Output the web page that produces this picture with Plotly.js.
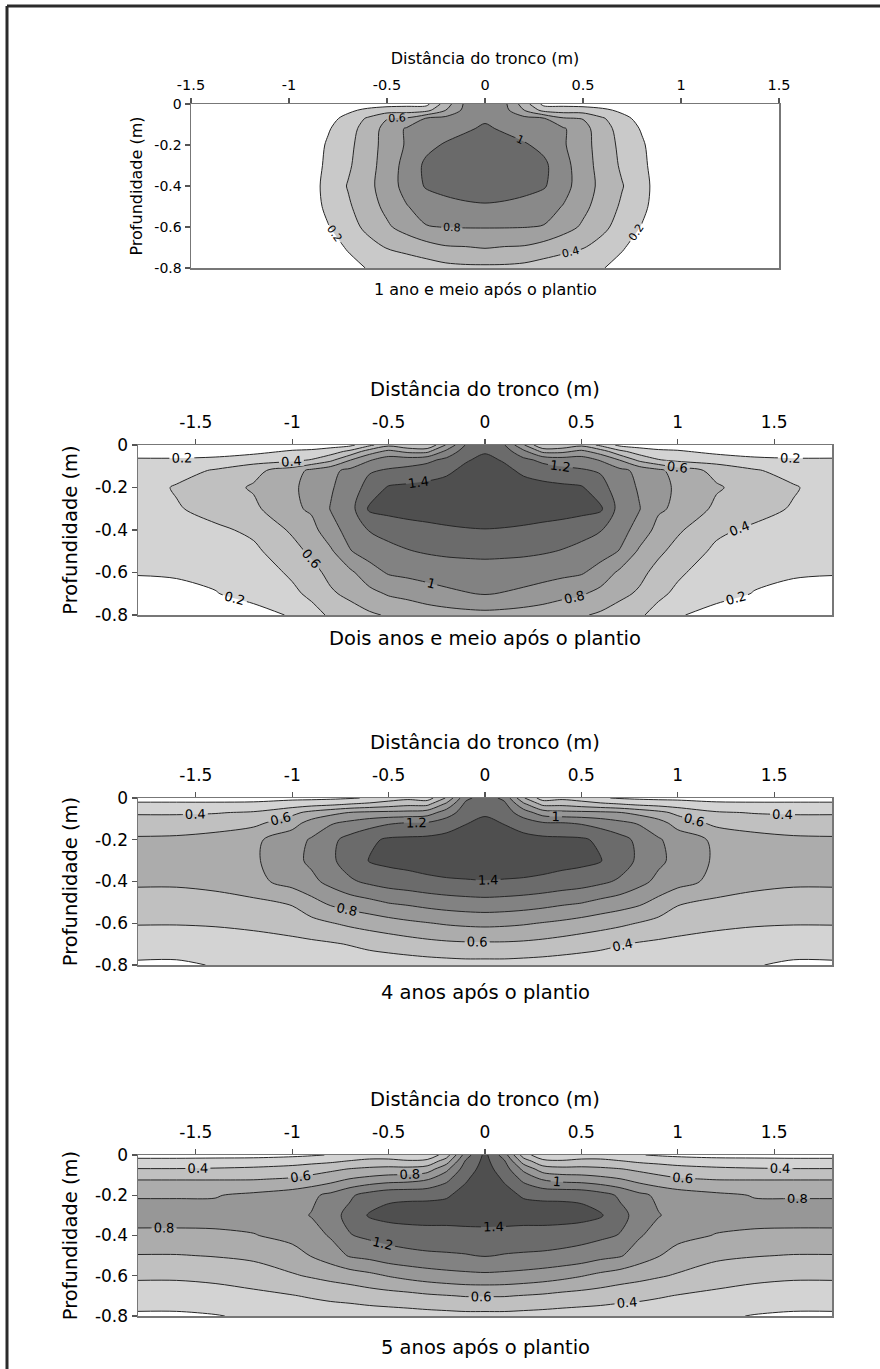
<!DOCTYPE html>
<html><head><meta charset="utf-8">
<script src="https://cdn.plot.ly/plotly-3.0.1.min.js"></script>
<style>html,body{margin:0;padding:0;background:#fff;overflow:hidden}</style>
</head><body><div id="chart" style="width:880px;height:1369px"></div>
<script>
// ---- data ----
const distX = [-1.8,-1.6,-1.4,-1.2,-1.0,-0.9,-0.8,-0.7,-0.6,-0.5,-0.4,-0.3,-0.2,-0.1,0,0.1,0.2,0.3,0.4,0.5,0.6,0.7,0.8,0.9,1.0,1.2,1.4,1.6,1.8];
const depthY = [0,-0.03,-0.07,-0.12,-0.2,-0.3,-0.4,-0.5,-0.6,-0.7,-0.8];

const z1 = [
[0,0,0,0,0,0,0,0.02,0.08,0.12,0.14,0.14,0.5,0.84,0.95,0.84,0.5,0.14,0.14,0.12,0.08,0.02,0,0,0,0,0,0,0],
[0,0,0,0,0,0,0.05,0.15,0.25,0.3,0.3,0.33,0.6,0.86,0.95,0.86,0.6,0.33,0.3,0.3,0.25,0.15,0.05,0,0,0,0,0,0],
[0,0,0,0,0,0.02,0.12,0.27,0.42,0.59,0.62,0.81,0.86,0.92,0.97,0.92,0.86,0.81,0.62,0.59,0.42,0.27,0.12,0.02,0,0,0,0,0],
[0,0,0,0,0,0.04,0.18,0.33,0.47,0.68,0.82,0.87,0.92,0.97,1.03,0.97,0.92,0.87,0.82,0.68,0.47,0.33,0.18,0.04,0,0,0,0,0],
[0,0,0,0,0,0.06,0.23,0.35,0.5,0.68,0.82,0.95,1.02,1.08,1.12,1.08,1.02,0.95,0.82,0.68,0.5,0.35,0.23,0.06,0,0,0,0,0],
[0,0,0,0,0,0.08,0.25,0.37,0.52,0.69,0.87,1.04,1.1,1.14,1.15,1.14,1.1,1.04,0.87,0.69,0.52,0.37,0.25,0.08,0,0,0,0,0],
[0,0,0,0,0,0.1,0.27,0.41,0.54,0.7,0.87,1.02,1.06,1.08,1.1,1.08,1.06,1.02,0.87,0.7,0.54,0.41,0.27,0.1,0,0,0,0,0],
[0,0,0,0,0,0.09,0.25,0.37,0.51,0.65,0.79,0.88,0.94,0.97,0.98,0.97,0.94,0.88,0.79,0.65,0.51,0.37,0.25,0.09,0,0,0,0,0],
[0,0,0,0,0,0.07,0.19,0.31,0.45,0.57,0.68,0.79,0.805,0.81,0.81,0.81,0.805,0.79,0.68,0.57,0.45,0.31,0.19,0.07,0,0,0,0,0],
[0,0,0,0,0,0.02,0.1,0.22,0.32,0.41,0.46,0.52,0.58,0.59,0.61,0.59,0.58,0.52,0.46,0.41,0.32,0.22,0.1,0.02,0,0,0,0,0],
[0,0,0,0,0,0,0.04,0.12,0.21,0.23,0.27,0.3,0.34,0.36,0.36,0.36,0.34,0.3,0.27,0.23,0.21,0.12,0.04,0,0,0,0,0,0]
];

const z2 = [
[0.06,0.06,0.06,0.08,0.1,0.1,0.12,0.15,0.35,0.55,0.45,0.41,0.82,1.21,1.3,1.21,0.82,0.41,0.45,0.55,0.35,0.15,0.12,0.1,0.1,0.08,0.06,0.06,0.06],
[0.12,0.12,0.12,0.15,0.22,0.24,0.3,0.45,0.7,0.85,0.75,0.75,1.05,1.3,1.38,1.3,1.05,0.75,0.75,0.85,0.7,0.45,0.3,0.24,0.22,0.15,0.12,0.12,0.12],
[0.22,0.22,0.24,0.3,0.35,0.41,0.55,0.79,0.98,1.1,1.1,1.15,1.25,1.38,1.45,1.38,1.25,1.15,1.1,1.1,0.98,0.79,0.55,0.41,0.35,0.3,0.24,0.22,0.22],
[0.28,0.32,0.42,0.55,0.7,0.85,0.95,1.05,1.18,1.22,1.26,1.3,1.36,1.45,1.52,1.45,1.36,1.3,1.26,1.22,1.18,1.05,0.95,0.85,0.7,0.55,0.42,0.32,0.28],
[0.3,0.42,0.52,0.62,0.77,0.86,0.98,1.1,1.27,1.42,1.44,1.46,1.48,1.52,1.55,1.52,1.48,1.46,1.44,1.42,1.27,1.1,0.98,0.86,0.77,0.62,0.52,0.42,0.3],
[0.3,0.38,0.48,0.56,0.76,0.83,1.01,1.12,1.43,1.47,1.5,1.52,1.54,1.56,1.58,1.56,1.54,1.52,1.5,1.47,1.43,1.12,1.01,0.83,0.76,0.56,0.48,0.38,0.3],
[0.3,0.32,0.36,0.44,0.63,0.73,0.93,1.07,1.21,1.26,1.3,1.33,1.36,1.38,1.39,1.38,1.36,1.33,1.3,1.26,1.21,1.07,0.93,0.73,0.63,0.44,0.36,0.32,0.3],
[0.24,0.26,0.3,0.36,0.53,0.64,0.77,0.99,1.08,1.15,1.19,1.22,1.24,1.25,1.26,1.25,1.24,1.22,1.19,1.15,1.08,0.99,0.77,0.64,0.53,0.36,0.3,0.26,0.24],
[0.21,0.22,0.25,0.3,0.43,0.53,0.66,0.76,0.92,1.02,1.05,1.07,1.09,1.1,1.1,1.1,1.09,1.07,1.05,1.02,0.92,0.76,0.66,0.53,0.43,0.3,0.25,0.22,0.21],
[0.14,0.15,0.19,0.27,0.36,0.44,0.57,0.65,0.74,0.82,0.86,0.92,0.96,0.99,1.01,0.99,0.96,0.92,0.86,0.82,0.74,0.65,0.57,0.44,0.36,0.27,0.19,0.15,0.14],
[0.06,0.06,0.08,0.12,0.22,0.33,0.43,0.5,0.57,0.62,0.65,0.68,0.71,0.73,0.74,0.73,0.71,0.68,0.65,0.62,0.57,0.5,0.43,0.33,0.22,0.12,0.08,0.06,0.06]
];

const z3 = [
[0.12,0.12,0.12,0.12,0.15,0.15,0.16,0.18,0.22,0.3,0.35,0.3,0.62,1.15,1.3,1.15,0.62,0.3,0.35,0.3,0.22,0.18,0.16,0.15,0.15,0.12,0.12,0.12,0.12],
[0.24,0.24,0.24,0.25,0.3,0.33,0.36,0.41,0.45,0.5,0.55,0.55,0.85,1.25,1.36,1.25,0.85,0.55,0.55,0.5,0.45,0.41,0.36,0.33,0.3,0.25,0.24,0.24,0.24],
[0.38,0.38,0.39,0.42,0.55,0.66,0.74,0.81,0.84,0.85,0.86,0.9,1.1,1.3,1.37,1.3,1.1,0.9,0.86,0.85,0.84,0.81,0.74,0.66,0.55,0.42,0.39,0.38,0.38],
[0.48,0.48,0.5,0.55,0.72,0.88,0.98,1.05,1.12,1.18,1.21,1.22,1.3,1.39,1.45,1.39,1.3,1.22,1.21,1.18,1.12,1.05,0.98,0.88,0.72,0.55,0.5,0.48,0.48],
[0.63,0.64,0.68,0.76,0.92,1.02,1.15,1.27,1.36,1.43,1.44,1.45,1.47,1.5,1.52,1.5,1.47,1.45,1.44,1.43,1.36,1.27,1.15,1.02,0.92,0.76,0.68,0.64,0.63],
[0.7,0.7,0.72,0.77,0.94,1.04,1.16,1.3,1.41,1.45,1.47,1.5,1.53,1.55,1.56,1.55,1.53,1.5,1.47,1.45,1.41,1.3,1.16,1.04,0.94,0.77,0.72,0.7,0.7],
[0.63,0.63,0.66,0.74,0.88,0.95,1.06,1.17,1.24,1.29,1.32,1.35,1.37,1.38,1.39,1.38,1.37,1.35,1.32,1.29,1.24,1.17,1.06,0.95,0.88,0.74,0.66,0.63,0.63],
[0.52,0.52,0.53,0.56,0.62,0.74,0.84,0.9,0.95,1.01,1.04,1.08,1.11,1.13,1.14,1.13,1.11,1.08,1.04,1.01,0.95,0.9,0.84,0.74,0.62,0.56,0.53,0.52,0.52],
[0.41,0.41,0.42,0.45,0.5,0.54,0.59,0.64,0.68,0.72,0.76,0.79,0.82,0.84,0.85,0.84,0.82,0.79,0.76,0.72,0.68,0.64,0.59,0.54,0.5,0.45,0.42,0.41,0.41],
[0.3,0.29,0.3,0.31,0.34,0.36,0.38,0.41,0.45,0.48,0.51,0.54,0.56,0.57,0.57,0.57,0.56,0.54,0.51,0.48,0.45,0.41,0.38,0.36,0.34,0.31,0.3,0.29,0.3],
[0.17,0.17,0.21,0.23,0.24,0.25,0.26,0.27,0.28,0.29,0.3,0.31,0.32,0.33,0.33,0.33,0.32,0.31,0.3,0.29,0.28,0.27,0.26,0.25,0.24,0.23,0.21,0.17,0.17]
];

const z4 = [
[0.14,0.14,0.14,0.14,0.16,0.18,0.21,0.25,0.3,0.3,0.25,0.25,0.5,1.1,1.45,1.1,0.5,0.25,0.25,0.3,0.3,0.25,0.21,0.18,0.16,0.14,0.14,0.14,0.14],
[0.25,0.25,0.26,0.27,0.3,0.33,0.36,0.41,0.45,0.45,0.42,0.45,0.7,1.22,1.46,1.22,0.7,0.45,0.42,0.45,0.45,0.41,0.36,0.33,0.3,0.27,0.26,0.25,0.25],
[0.41,0.41,0.42,0.44,0.48,0.52,0.56,0.61,0.64,0.66,0.66,0.7,0.95,1.3,1.48,1.3,0.95,0.7,0.66,0.66,0.64,0.61,0.56,0.52,0.48,0.44,0.42,0.41,0.41],
[0.59,0.59,0.59,0.59,0.62,0.66,0.72,0.81,0.86,0.9,0.92,0.98,1.15,1.38,1.5,1.38,1.15,0.98,0.92,0.9,0.86,0.81,0.72,0.66,0.62,0.59,0.59,0.59,0.59],
[0.79,0.79,0.79,0.84,0.9,0.96,1.05,1.17,1.28,1.35,1.36,1.36,1.38,1.46,1.55,1.46,1.38,1.36,1.36,1.35,1.28,1.17,1.05,0.96,0.9,0.84,0.79,0.79,0.79],
[0.85,0.85,0.86,0.88,0.94,1.01,1.13,1.26,1.42,1.47,1.49,1.5,1.5,1.51,1.52,1.51,1.5,1.5,1.49,1.47,1.42,1.26,1.13,1.01,0.94,0.88,0.86,0.85,0.85],
[0.77,0.77,0.77,0.79,0.86,0.92,1.02,1.19,1.24,1.27,1.29,1.3,1.3,1.31,1.31,1.31,1.3,1.3,1.29,1.27,1.24,1.19,1.02,0.92,0.86,0.79,0.77,0.77,0.77],
[0.59,0.59,0.61,0.64,0.72,0.81,0.9,1.02,1.06,1.12,1.15,1.17,1.18,1.19,1.21,1.19,1.18,1.17,1.15,1.12,1.06,1.02,0.9,0.81,0.72,0.64,0.61,0.59,0.59],
[0.43,0.43,0.45,0.5,0.58,0.62,0.66,0.7,0.75,0.81,0.86,0.9,0.93,0.95,0.96,0.95,0.93,0.9,0.86,0.81,0.75,0.7,0.66,0.62,0.58,0.5,0.45,0.43,0.43],
[0.3,0.3,0.32,0.35,0.39,0.42,0.45,0.47,0.5,0.52,0.54,0.57,0.59,0.61,0.61,0.61,0.59,0.57,0.54,0.52,0.5,0.47,0.45,0.42,0.39,0.35,0.32,0.3,0.3],
[0.17,0.17,0.19,0.23,0.25,0.26,0.27,0.28,0.29,0.3,0.31,0.32,0.33,0.34,0.34,0.34,0.33,0.32,0.31,0.3,0.29,0.28,0.27,0.26,0.25,0.23,0.19,0.17,0.17]
];

const levelStart = 0.2;
const levelSize = 0.2;
const levelEnds = [1.0, 1.4, 1.4, 1.4];
const xTickVals = [-1.5,-1,-0.5,0,0.5,1,1.5];
const xTickText = ['-1.5','-1','-0.5','0','0.5','1','1.5'];
const yTickVals = [0,-0.2,-0.4,-0.6,-0.8];
const yTickText = ['0','-0.2','-0.4','-0.6','-0.8'];
const xTitle = 'Distância do tronco (m)';
const yTitle = 'Profundidade (m)';
const panelLabels = ['1 ano e meio após o plantio','Dois anos e meio após o plantio','4 anos após o plantio','5 anos após o plantio'];
const xRanges = [[-1.5,1.5],[-1.8,1.8],[-1.8,1.8],[-1.8,1.8]];

// ---- styling / layout ----
const grays1 = ['#ffffff','#c9c9c9','#b5b5b5','#a0a0a0','#898989','#6a6a6a'];
const grays2 = ['#ffffff','#d3d3d3','#c0c0c0','#acacac','#979797','#828282','#6b6b6b','#4f4f4f'];
const W = 880, H = 1369;
const FONT = '"DejaVu Sans", Arial, sans-serif';
const TXT = '#000';
const geo = [
  {px:[191,779], py:[104,268], big:false, colors:grays1},
  {px:[138,832], py:[445,615], big:true, colors:grays2},
  {px:[138,832], py:[798,965], big:true, colors:grays2},
  {px:[138,832], py:[1155,1316], big:true, colors:grays2}
];
const labelY = [290, 638, 992, 1347];
const zs = [z1, z2, z3, z4];

zs.forEach((z,i)=>{ if(z.length!==depthY.length) throw new Error('rows '+i); z.forEach((r,j)=>{ if(r.length!==distX.length) throw new Error('len p'+i+' r'+j+' '+r.length); }); });

const fx = p => p / W;
const fy = p => 1 - p / H;

const traces = [];
const layout = {
  width: W, height: H,
  margin: {l:0, r:0, t:0, b:0},
  paper_bgcolor: '#fff', plot_bgcolor: '#fff',
  showlegend: false, hovermode: false,
  font: {family: FONT, color: TXT},
  annotations: [],
  shapes: [
    {type:'line', xref:'paper', yref:'paper', x0:fx(7), x1:1, y0:fy(6), y1:fy(6), line:{color:'#2b2b2b', width:3}},
    {type:'line', xref:'paper', yref:'paper', x0:fx(7), x1:fx(7), y0:fy(6), y1:0, line:{color:'#2b2b2b', width:3}}
  ]
};

geo.forEach((g, i) => {
  const n = i + 1;
  const xa = 'xaxis' + (n === 1 ? '' : n);
  const ya = 'yaxis' + (n === 1 ? '' : n);
  const xid = 'x' + (n === 1 ? '' : n);
  const yid = 'y' + (n === 1 ? '' : n);
  const nc = Math.round((levelEnds[i] - levelStart) / levelSize) + 1;
  const cscale = g.colors.map((c, k) => [k / nc, c]);
  const tickSize = g.big ? 17 : 14.5;
  const titleSize = g.big ? 19.5 : 16;
  traces.push({
    type: 'contour', x: distX, y: depthY, z: zs[i],
    xaxis: xid, yaxis: yid,
    autocontour: false,
    contours: {start: levelStart, end: levelEnds[i], size: levelSize, coloring: 'fill',
               showlabels: true, labelfont: {family: FONT, size: g.big ? 13 : 11, color: '#000'}},
    line: {color: '#262626', width: 1, smoothing: 0.9},
    colorscale: cscale, showscale: false, hoverinfo: 'skip'
  });
  layout[xa] = {
    domain: [fx(g.px[0]), fx(g.px[1])], range: xRanges[i], side: 'top', anchor: yid,
    tickmode: 'array', tickvals: xTickVals, ticktext: xTickText,
    ticks: 'outside', ticklen: 5, tickwidth: 1.3, tickcolor: '#555', ticklabelstandoff: g.big ? 4 : 2,
    showline: true, mirror: true, linecolor: '#777', linewidth: 1.5,
    showgrid: false, zeroline: false, fixedrange: true,
    tickfont: {family: FONT, size: tickSize, color: TXT},
    title: {text: xTitle, font: {family: FONT, size: titleSize, color: TXT}, standoff: g.big ? 10 : 8}
  };
  layout[ya] = {
    domain: [fy(g.py[1]), fy(g.py[0])], range: [-0.8, 0], anchor: xid,
    tickmode: 'array', tickvals: yTickVals, ticktext: yTickText,
    ticks: 'outside', ticklen: 5, tickwidth: 1.3, tickcolor: '#555',
    showline: true, mirror: true, linecolor: '#777', linewidth: 1.5,
    showgrid: false, zeroline: false, fixedrange: true,
    tickfont: {family: FONT, size: g.big ? 17 : 14, color: TXT},
    title: {text: yTitle, font: {family: FONT, size: titleSize, color: TXT}, standoff: g.big ? 12 : 8}
  };
  layout.annotations.push({
    text: panelLabels[i], xref: 'paper', yref: 'paper',
    x: fx((g.px[0] + g.px[1]) / 2), y: fy(labelY[i]), xanchor: 'center', yanchor: 'middle',
    showarrow: false, font: {family: FONT, size: titleSize, color: TXT}
  });
});

Plotly.newPlot('chart', traces, layout, {displayModeBar: false, staticPlot: true});
</script>
</body></html>
